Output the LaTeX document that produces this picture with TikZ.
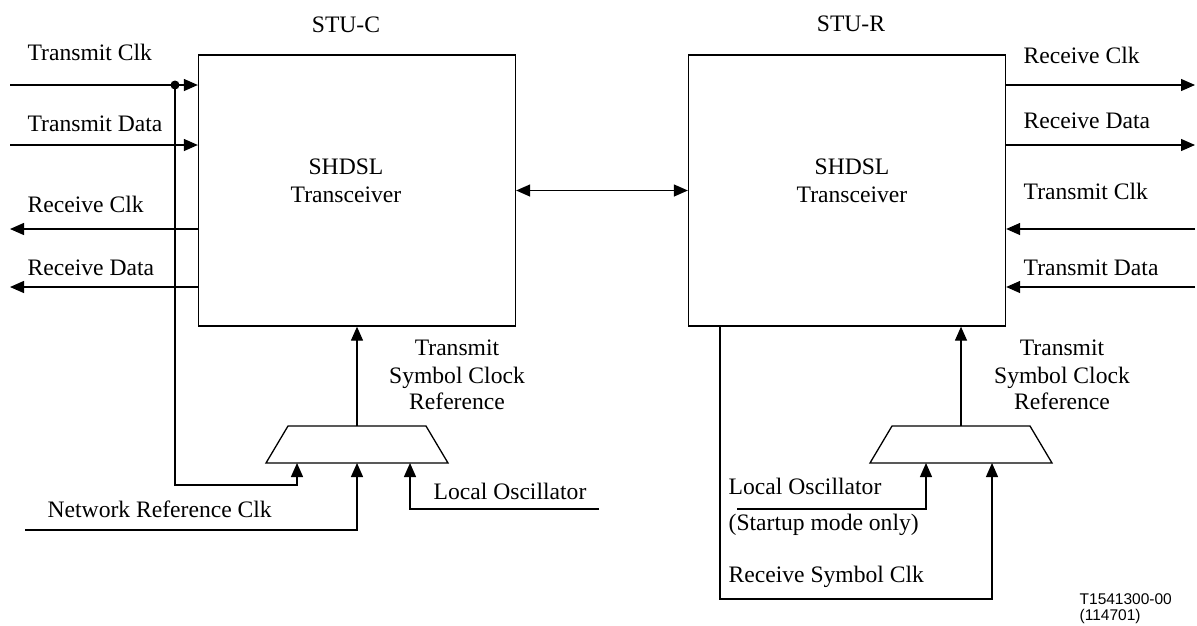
\documentclass[tikz,border=0pt]{standalone}
\usepackage{fontspec}
\setmainfont{Liberation Serif}
\newfontfamily\arialf{Liberation Sans}
\usetikzlibrary{arrows.meta}
\begin{document}
\begin{tikzpicture}[x=1pt,y=-1pt,line width=1.3pt,
  lbl/.style={inner sep=0pt,anchor=base west,font=\fontsize{23.6}{28}\selectfont},
  clbl/.style={inner sep=0pt,anchor=base,font=\fontsize{23.6}{28}\selectfont},
  blk/.style={draw,inner sep=0pt,minimum width=317pt,minimum height=271pt},
  tip/.tip={Triangle[length=14pt,width=12pt]},
  sig/.style={draw,-tip},
  code/.style={inner sep=0pt,anchor=base west,font=\arialf\fontsize{15.5}{18}\selectfont}]
\useasboundingbox (0,0) rectangle (1197,625);

% blocks
\node[blk] (c) at (357,190.5) {};
\node[blk] (r) at (847,190.5) {};
\node[clbl] (stuc) at (346,32) {STU-C};
\node[clbl] (stur) at (851,31) {STU-R};
\node[clbl] (c1) at (346,174) {SHDSL};
\node[clbl] (c2) at (346,202) {Transceiver};
\node[clbl] (r1) at (852,174) {SHDSL};
\node[clbl] (r2) at (852,202) {Transceiver};

% line between transceivers
\draw[tip-tip] (c.east) -- (r.west);

% left side signals
\coordinate (ltc) at (10,85);
\coordinate (ltd) at (10,145);
\coordinate (lrc) at (10,229);
\coordinate (lrd) at (10,287);
\draw[sig] (ltc) -- (c.west |- ltc);
\draw[sig] (ltd) -- (c.west |- ltd);
\draw[sig] (c.west |- lrc) -- (lrc);
\draw[sig] (c.west |- lrd) -- (lrd);
\node[lbl] (tlc) at (27,60) {Transmit Clk};
\node[lbl] (tld) at (27,131) {Transmit Data};
\node[lbl] (tlrc) at (27,212) {Receive Clk};
\node[lbl] (tlrd) at (27,275) {Receive Data};

% left mux
\draw (266,463) -- (288,426) -- (426,426) -- (448,463) -- cycle;
\coordinate (mo) at (357,426);
\coordinate (ma) at (297,463);
\coordinate (mb) at (357,463);
\coordinate (mc) at (410,463);
\draw[sig] (mo) -- (c.south);
\coordinate (dot) at (175,85);
\fill (dot) circle (4.5pt);
\coordinate (b1) at (175,485);
\draw[sig] (dot) -- (b1) -| (ma);
\coordinate (nrc) at (25,530);
\draw[sig] (nrc) -| (mb);
\coordinate (lo) at (599,509);
\draw[sig] (lo) -| (mc);
\node[clbl] (ts1) at (457,355) {Transmit};
\node[clbl] (ts2) at (457,383) {Symbol Clock};
\node[clbl] (ts3) at (457,409) {Reference};
\node[lbl] (tlo) at (433,499) {Local Oscillator};
\node[lbl] (tnr) at (47,517) {Network Reference Clk};

% right side signals
\coordinate (rrc) at (1195,85);
\coordinate (rrd) at (1195,145);
\coordinate (rtc) at (1195,229);
\coordinate (rtd) at (1195,287);
\draw[sig] (r.east |- rrc) -- (rrc);
\draw[sig] (r.east |- rrd) -- (rrd);
\draw[sig] (rtc) -- (r.east |- rtc);
\draw[sig] (rtd) -- (r.east |- rtd);
\node[lbl] (trrc) at (1023,63) {Receive Clk};
\node[lbl] (trrd) at (1023,128) {Receive Data};
\node[lbl] (trtc) at (1023,199) {Transmit Clk};
\node[lbl] (trtd) at (1023,275) {Transmit Data};

% right mux
\draw (870,463) -- (892,426) -- (1030,426) -- (1052,463) -- cycle;
\coordinate (rmo) at (961,426);
\coordinate (rma) at (926,463);
\coordinate (rmb) at (992,463);
\draw[sig] (rmo) -- (r.south -| rmo);
\coordinate (rlo) at (737,509);
\draw[sig] (rlo) -| (rma);
\coordinate (rsb) at (720,599);
\draw[sig] (r.south west -| rsb) -- (rsb) -| (rmb);
\node[clbl] (rs1) at (1062,355) {Transmit};
\node[clbl] (rs2) at (1062,383) {Symbol Clock};
\node[clbl] (rs3) at (1062,409) {Reference};
\node[lbl] (trlo) at (728,494) {Local Oscillator};
\node[lbl] (trsm) at (728,530) {(Startup mode only)};
\node[lbl] (trsc) at (728,582) {Receive Symbol Clk};

\node[code] (id1) at (1079,604) {T1541300-00};
\node[code] (id2) at (1079,620) {(114701)};
\end{tikzpicture}
\end{document}
